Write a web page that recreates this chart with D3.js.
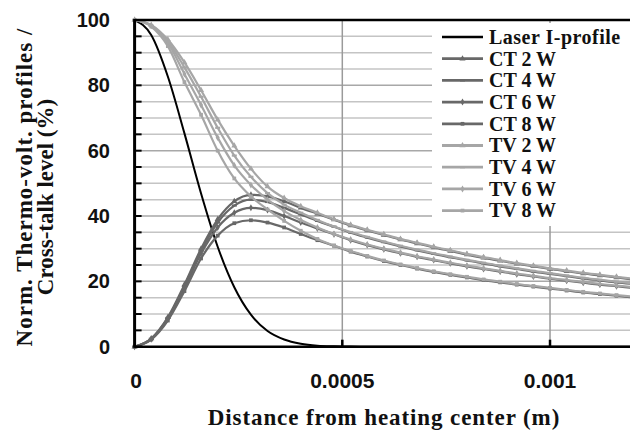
<!DOCTYPE html>
<html><head><meta charset="utf-8">
<script src="https://cdn.jsdelivr.net/npm/d3@7"></script>
<style>body{margin:0;background:#fff} svg{display:block}</style>
</head><body>
<svg id="chart" width="630" height="433"></svg>
<script>
// ---------- data ----------
const distances = [0, 0.00004, 0.00008, 0.00012, 0.00016, 0.0002, 0.00024, 0.00028, 0.00032, 0.00036,
  0.0004, 0.00044, 0.00048, 0.00052, 0.00056, 0.0006, 0.00064, 0.00068, 0.00072, 0.00076,
  0.0008, 0.00084, 0.00088, 0.00092, 0.00096, 0.001, 0.00104, 0.00108, 0.00112, 0.00116, 0.0012];
const laserProfile = [100, 95.4, 82.7, 65.3, 46.9, 30.6, 18.2, 9.8, 4.8, 2.2, 0.9, 0.3, 0.1, 0.03, 0, 0,
  0, 0, 0, 0, 0, 0, 0, 0, 0, 0, 0, 0, 0, 0, 0];
const ct2W = [0, 2.5, 9, 19, 30, 39, 44.5, 46.5, 46, 44.5, 42.5, 40.7, 38.9, 37.1, 35.6, 34.2, 32.8, 31.6,
  30.4, 29.3, 28.2, 27.2, 26.3, 25.4, 24.6, 23.8, 23.1, 22.4, 21.8, 21.2, 20.6];
const ct4W = [0, 2.4, 8.8, 18.5, 29.3, 38, 43.2, 45, 44.3, 42.5, 40.5, 38.5, 36.7, 34.9, 33.4, 32.0, 30.7,
  29.5, 28.4, 27.4, 26.4, 25.5, 24.6, 23.8, 23.0, 22.3, 21.6, 20.9, 20.3, 19.7, 19.2];
const ct6W = [0, 2.3, 8.5, 18, 28.5, 36.5, 41, 42.5, 41.8, 40, 38, 36.2, 34.4, 32.6, 31.1, 29.8, 28.6,
  27.5, 26.5, 25.5, 24.6, 23.8, 23.0, 22.2, 21.5, 20.8, 20.2, 19.6, 19.0, 18.5, 18.0];
const ct8W = [0, 2.2, 8, 17, 27, 34, 37.8, 38.7, 38, 36.5, 34.5, 32.6, 30.9, 29.1, 27.6, 26.2, 25.0,
  23.9, 22.9, 22.0, 21.2, 20.4, 19.7, 19.0, 18.4, 17.8, 17.2, 16.6, 16.1, 15.6, 15.1];
const tv2W = [100, 98.5, 94, 87, 78.5, 69.5, 61.5, 54.5, 49, 45.5, 43, 41, 39, 37.3, 35.8, 34.4, 33,
  31.8, 30.6, 29.5, 28.4, 27.4, 26.5, 25.6, 24.8, 24, 23.3, 22.6, 22, 21.4, 20.8];
const tv4W = [100, 98.3, 93.5, 85.5, 76.5, 67, 58.5, 52, 47, 43.5, 41, 38.8, 36.8, 35.1, 33.6, 32.2,
  30.9, 29.7, 28.6, 27.6, 26.6, 25.7, 24.8, 24, 23.2, 22.5, 21.8, 21.1, 20.5, 19.9, 19.4];
const tv6W = [100, 98.2, 93, 83.5, 74, 64, 55.5, 49.5, 45, 41.5, 38.8, 36.5, 34.5, 32.8, 31.3, 30,
  28.8, 27.7, 26.7, 25.7, 24.8, 24, 23.2, 22.4, 21.7, 21, 20.4, 19.8, 19.2, 18.7, 18.2];
const tv8W = [100, 98, 92, 81, 71, 60, 51.5, 46, 42, 38.5, 35.5, 33, 31, 29.3, 27.8, 26.4, 25.2, 24.1,
  23.1, 22.2, 21.4, 20.6, 19.9, 19.2, 18.6, 18, 17.4, 16.8, 16.3, 15.8, 15.3];
const seriesNames = ["Laser I-profile", "CT 2 W", "CT 4 W", "CT 6 W", "CT 8 W", "TV 2 W", "TV 4 W", "TV 6 W", "TV 8 W"];
const xTickValues = [0, 0.0005, 0.001];
const xTickLabels = ["0", "0.0005", "0.001"];
const yTickValues = [0, 20, 40, 60, 80, 100];
const yTickLabels = ["0", "20", "40", "60", "80", "100"];
const xTitle = "Distance from heating center (m)";
const yTitleLines = ["Norm. Thermo-volt. profiles /", "Cross-talk level (%)"];

(function () {
// ---------- styles ----------
const seriesValues = [laserProfile, ct2W, ct4W, ct6W, ct8W, tv2W, tv4W, tv6W, tv8W];
const styles = [
  {color: "#000", marker: null, width: 2},
  {color: "#686868", marker: "triangle", width: 2.2},
  {color: "#686868", marker: "dash", width: 2.2},
  {color: "#686868", marker: "diamond", width: 2.2},
  {color: "#686868", marker: "square", width: 2.2},
  {color: "#a6a6a6", marker: "triangle", width: 2.2},
  {color: "#a6a6a6", marker: "dash", width: 2.2},
  {color: "#a6a6a6", marker: "diamond", width: 2.2},
  {color: "#a6a6a6", marker: "square", width: 2.2}
];
const series = seriesNames.map((name, i) => ({
  name, style: styles[i],
  points: distances.map((d, j) => ({x: d, y: seriesValues[i][j]}))
}));

const svg = d3.select("#chart");
const x = d3.scaleLinear().domain([0, 0.0012]).range([134.6, 633.1]);
const y = d3.scaleLinear().domain([0, 100]).range([346.7, 20]);
const pLeft = 134.6, pRight = 630, pTop = 20, pBottom = 346.7;

// gridlines
const minorY = d3.range(5, 100, 5);
svg.append("g").selectAll("line").data(minorY).join("line")
  .attr("x1", pLeft).attr("x2", pRight)
  .attr("y1", d => y(d)).attr("y2", d => y(d))
  .attr("stroke", d => d % 20 === 0 ? "#a8a8a8" : "#c4c4c4")
  .attr("stroke-width", 1.5);
svg.append("g").selectAll("line").data(xTickValues.slice(1)).join("line")
  .attr("x1", d => x(d)).attr("x2", d => x(d))
  .attr("y1", pTop).attr("y2", pBottom)
  .attr("stroke", "#9a9a9a").attr("stroke-width", 1.5);

// clip
svg.append("defs").append("clipPath").attr("id", "clip")
  .append("rect").attr("x", 128).attr("y", 12).attr("width", pRight - 128).attr("height", 342);

const plot = svg.append("g").attr("clip-path", "url(#clip)");
const line = d3.line().x(d => x(d.x)).y(d => y(d.y)).curve(d3.curveMonotoneX);

function markerPath(type) {
  if (type === "triangle") return d3.symbol(d3.symbolTriangle, 16)();
  if (type === "diamond") return d3.symbol(d3.symbolDiamond, 14)();
  if (type === "square") return d3.symbol(d3.symbolSquare, 14)();
  if (type === "dash") return "M-2.5,-1.1H2.5V1.1H-2.5Z";
  return null;
}

series.forEach(s => {
  const g = plot.append("g");
  g.append("path").datum(s.points).attr("d", line)
    .attr("fill", "none").attr("stroke", s.style.color).attr("stroke-width", s.style.width)
    .attr("stroke-linejoin", "round");
  if (s.style.marker) {
    g.selectAll("path.m").data(s.points).join("path").attr("class", "m")
      .attr("d", markerPath(s.style.marker))
      .attr("transform", d => `translate(${x(d.x)},${y(d.y)})`)
      .attr("fill", s.style.color);
  }
});

// axes frame
svg.append("line").attr("x1", pLeft).attr("x2", pRight).attr("y1", pTop).attr("y2", pTop)
  .attr("stroke", "#000").attr("stroke-width", 2.5);
svg.append("line").attr("x1", pLeft).attr("x2", pRight).attr("y1", pBottom).attr("y2", pBottom)
  .attr("stroke", "#000").attr("stroke-width", 2.5);
svg.append("line").attr("x1", pLeft).attr("x2", pLeft).attr("y1", pTop - 1).attr("y2", pBottom + 1)
  .attr("stroke", "#000").attr("stroke-width", 3);
// y ticks (inside)
svg.append("g").selectAll("line").data(d3.range(0, 105, 5)).join("line")
  .attr("x1", pLeft).attr("x2", pLeft + 7)
  .attr("y1", d => y(d)).attr("y2", d => y(d))
  .attr("stroke", "#000").attr("stroke-width", 2);
// x ticks (inside)
svg.append("g").selectAll("line").data(xTickValues.slice(1)).join("line")
  .attr("x1", d => x(d)).attr("x2", d => x(d))
  .attr("y1", pBottom).attr("y2", pBottom - 7)
  .attr("stroke", "#000").attr("stroke-width", 2.5);

// tick labels
const tickFont = "'Liberation Sans', Arial, sans-serif";
svg.append("g").selectAll("text").data(yTickValues).join("text")
  .attr("x", 110).attr("y", d => y(d) + 7)
  .attr("text-anchor", "end").attr("font-family", tickFont).attr("font-weight", "bold")
  .attr("font-size", 20).attr("fill", "#111")
  .text((d, i) => yTickLabels[i]);
svg.append("g").selectAll("text").data(xTickValues).join("text")
  .attr("x", d => x(d) + (d === 0 ? 1.5 : 0)).attr("y", 388)
  .attr("text-anchor", "middle").attr("font-family", tickFont).attr("font-weight", "bold")
  .attr("font-size", 21).attr("fill", "#111")
  .text((d, i) => xTickLabels[i]);

// titles
const serif = "'Liberation Serif', 'Times New Roman', serif";
svg.append("text").attr("x", 384).attr("y", 425).attr("text-anchor", "middle")
  .attr("font-family", serif).attr("font-weight", "bold").attr("font-size", 23)
  .attr("letter-spacing", 0.9).attr("fill", "#111").text(xTitle);
svg.append("text").attr("transform", "translate(32,187) rotate(-90)").attr("text-anchor", "middle")
  .attr("font-family", serif).attr("font-weight", "bold").attr("font-size", 23)
  .attr("letter-spacing", 1).attr("fill", "#111").text(yTitleLines[0]);
svg.append("text").attr("transform", "translate(53,197) rotate(-90)").attr("text-anchor", "middle")
  .attr("font-family", serif).attr("font-weight", "bold").attr("font-size", 23)
  .attr("fill", "#111").text(yTitleLines[1]);

// legend
const lg = svg.append("g");
lg.append("rect").attr("x", 432).attr("y", 23).attr("width", 198).attr("height", 203).attr("fill", "#fff");
series.forEach((s, i) => {
  const cy = 37 + i * 21.7;
  lg.append("line").attr("x1", 442).attr("x2", 483).attr("y1", cy).attr("y2", cy)
    .attr("stroke", s.style.color).attr("stroke-width", s.style.width + 0.6);
  if (s.style.marker) {
    lg.append("path").attr("d", markerPath(s.style.marker))
      .attr("transform", `translate(462.5,${cy})`).attr("fill", s.style.color);
  }
  lg.append("text").attr("x", 489).attr("y", cy + 6.8)
    .attr("font-family", serif).attr("font-weight", "bold").attr("font-size", 20)
    .attr("letter-spacing", i === 0 ? 0.5 : 0).attr("fill", "#111").text(s.name);
});
})();
</script>
</body></html>
